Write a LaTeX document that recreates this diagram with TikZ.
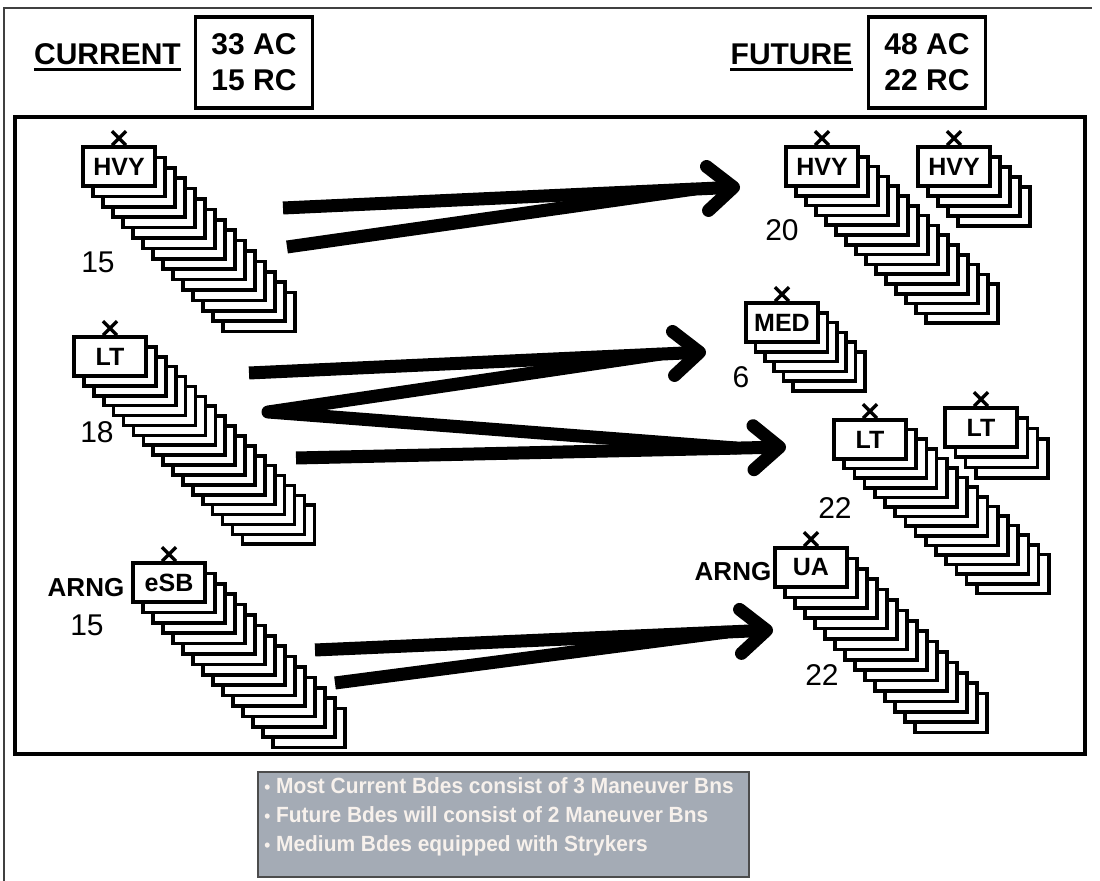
\documentclass[tikz,border=0pt]{standalone}
\usepackage{fontspec}
\setmainfont{Liberation Sans}
\newfontfamily\notefont[FakeStretch=0.95]{Liberation Sans}
\usetikzlibrary{arrows.meta,calc,positioning}

\definecolor{notegray}{RGB}{164,171,181}
\definecolor{notetext}{RGB}{247,241,236}

\tikzset{
  stackrect/.style={draw,fill=white,line width=1.8pt},
  unitbox/.style={draw,fill=white,line width=1.8pt,minimum width=36pt,minimum height=19.5pt,inner sep=0pt,
    font=\bfseries\fontsize{12.5}{12.5}\selectfont},
  xmark/.style={line width=1.7pt},
  bdenum/.style={font=\fontsize{15}{15}\selectfont},
  arngtext/.style={font=\bfseries\fontsize{13}{13}\selectfont},
  hdrtext/.style={inner sep=0pt,anchor=base,font=\bfseries\fontsize{15}{18}\selectfont},
  hdrbox/.style={draw,line width=1.8pt,minimum width=58.5pt,minimum height=45.5pt,align=center,
    font=\bfseries\fontsize{15}{18}\selectfont},
  notes/.style={inner sep=0pt,align=left,text=notetext,font=\notefont\bfseries\fontsize{11}{14.5}\selectfont},
  bigline/.style={line width=6.5pt},
  bigarrow/.style={line width=6.5pt,-{Straight Barb[length=13pt,width=22pt,round]}}
}

% stack of brigade boxes: name, front corner x, y, boxes, step x, step y, type
\newcommand{\bdestack}[7]{%
  \foreach \k in {1,...,#4}{
    \pgfmathsetmacro{\j}{#4-\k}
    \draw[stackrect] ({#2+\j*#5},{#3+\j*#6}) rectangle ++(72,39);
  }
  \node[unitbox] (#1) at ({#2+36},{#3+19.5}) {#7};
  \draw[xmark] ($(#1.north)+(-7,0)$) -- ++(14,-14)
               ($(#1.north)+(7,0)$) -- ++(-14,-14);
}
\newcommand{\dotmark}{{\fontsize{9}{9}\selectfont•}}

\begin{document}
\begin{tikzpicture}[x=0.5pt,y=-0.5pt]
    \useasboundingbox (0,0) rectangle (1100,881);
    % outer frame
    \draw[black!75,line width=1.2pt] (4,881) -- (4,8) -- (1092,8);

    % header
    \node[hdrtext] (current) at (107.5,65) {CURRENT};
    \draw[line width=1.3pt] ([yshift=-2.2pt]current.base west) -- ([yshift=-2.2pt]current.base east);
    \node[hdrbox] (acNow) at (254,62.5) {33 AC\\15 RC};
    \node[hdrtext] (future) at (791.5,65) {FUTURE};
    \draw[line width=1.3pt] ([yshift=-2.2pt]future.base west) -- ([yshift=-2.2pt]future.base east);
    \node[hdrbox] (acNew) at (927,62.5) {48 AC\\22 RC};

    % main box
    \draw[line width=2.3pt] (15,117) rectangle (1085,754);

    % current brigades
    \bdestack{hvyNow}{83}{147}{15}{10}{10.4}{HVY}
    \node[bdenum] (hvyNowNum) at (98,262) {15};
    \bdestack{ltNow}{74}{337}{18}{9.9}{9.9}{LT}
    \node[bdenum] (ltNowNum) at (97,432) {18};
    \bdestack{sbNow}{133}{563}{15}{10}{10.4}{eSB}
    \node[arngtext] (arngNow) at (86,588) {ARNG};
    \node[bdenum] (sbNowNum) at (87,625) {15};

    % future brigades
    \bdestack{hvyNew}{786}{147}{15}{10}{9.8}{HVY}
    \bdestack{hvyNewB}{918}{147}{5}{10}{10}{HVY}
    \node[bdenum] (hvyNewNum) at (782,230) {20};
    \bdestack{medNew}{746}{303}{6}{9.4}{9.8}{MED}
    \node[bdenum] (medNewNum) at (741,377) {6};
    \bdestack{ltNew}{834}{420}{15}{10.2}{9.6}{LT}
    \bdestack{ltNewB}{945}{408}{4}{10.3}{10.3}{LT}
    \node[bdenum] (ltNewNum) at (835,508) {22};
    \bdestack{uaNew}{775}{548}{15}{10}{10.4}{UA}
    \node[arngtext] (arngNew) at (733,572) {ARNG};
    \node[bdenum] (uaNewNum) at (822,675) {22};

    % arrows
    \coordinate (hvyUp) at (283,208);
    \coordinate (hvyLow) at (287,247);
    \coordinate (hvyTip) at (740,187);
    \draw[bigarrow] (hvyUp) -- (hvyTip);
    \draw[bigline] (hvyLow) -- ($(hvyUp)!0.9!(hvyTip)$);

    \coordinate (ltUp) at (249,373);
    \coordinate (ltMid) at (268,412);
    \coordinate (ltLow) at (296,458);
    \coordinate (medTip) at (706,352);
    \coordinate (ltTip) at (786,447);
    \draw[bigarrow] (ltUp) -- (medTip);
    \draw[bigarrow] (ltLow) -- (ltTip);
    \draw[bigline,line join=round] ($(ltUp)!0.9!(medTip)$) -- (ltMid) -- ($(ltLow)!0.9!(ltTip)$);

    \coordinate (sbUp) at (315,650);
    \coordinate (sbLow) at (335,683);
    \coordinate (uaTip) at (773,630);
    \draw[bigarrow] (sbUp) -- (uaTip);
    \draw[bigline] (sbLow) -- ($(sbUp)!0.9!(uaTip)$);

    % notes
    \draw[draw=black!70,fill=notegray,line width=0.6pt] (258,772) rectangle (749,877);
    \node[notes,anchor=west] (notes) at (264,817)
      {\dotmark\ Most Current Bdes consist of 3 Maneuver Bns\\
       \dotmark\ Future Bdes will consist of 2 Maneuver Bns\\
       \dotmark\ Medium Bdes equipped with Strykers};
\end{tikzpicture}
\end{document}
